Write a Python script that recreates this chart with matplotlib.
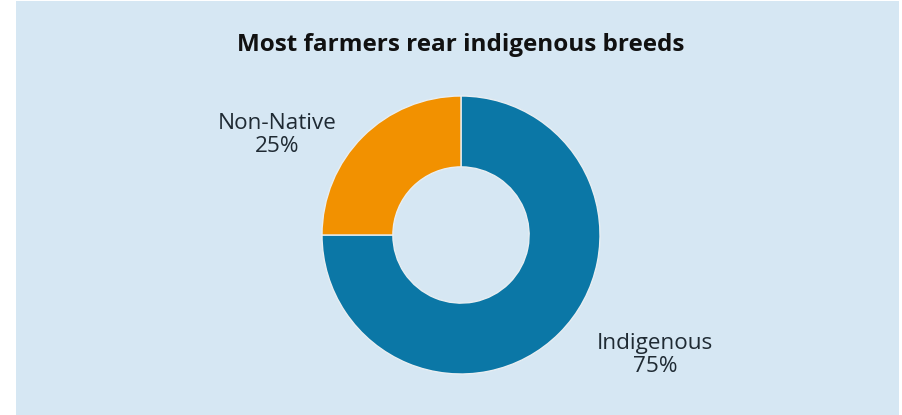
import matplotlib.pyplot as plt

labels = ['Indigenous', 'Non-Native']
shares = [75, 25]
colors = ['#0b77a6', '#f29100']

bg = '#d6e7f3'
txt = '#1f2a33'

fig = plt.figure(figsize=(9.02, 4.15), dpi=100)
fig.patch.set_facecolor('white')

# light blue panel behind everything
bg_ax = fig.add_axes([16/902, 0, 883/902, 414/415], zorder=0)
bg_ax.set_facecolor(bg)
bg_ax.set_xticks([])
bg_ax.set_yticks([])
for s in bg_ax.spines.values():
    s.set_visible(False)

# donut: centre (461, 235) px, radius ~139 px
r_px = 139
ax = fig.add_axes([(461 - r_px)/902, (415 - 235 - r_px)/415, 2*r_px/902, 2*r_px/415], zorder=1)
ax.patch.set_alpha(0)
ax.pie(shares, colors=colors, startangle=90, counterclock=False, radius=1.0,
       wedgeprops=dict(width=0.51, edgecolor='#e8eef2', linewidth=1.0))
ax.set_xlim(-1, 1)
ax.set_ylim(-1, 1)
ax.set_aspect('equal')
ax.axis('off')

fig.text(461/902, 1 - 45/415, 'Most farmers rear indigenous breeds', ha='center', va='center',
         fontsize=17.5, fontweight='bold', family='Open Sans', color='#111111', zorder=3)

fig.text(277/902, 1 - 135/415, f'{labels[1]}\n{shares[1]}%', ha='center', va='center',
         fontsize=16.2, family='Open Sans', color=txt, linespacing=1.15, zorder=3)
fig.text(655/902, 1 - 355/415, f'{labels[0]}\n{shares[0]}%', ha='center', va='center',
         fontsize=16.2, family='Open Sans', color=txt, linespacing=1.15, zorder=3)

fig.savefig('out.png', dpi=100, facecolor=fig.get_facecolor())
